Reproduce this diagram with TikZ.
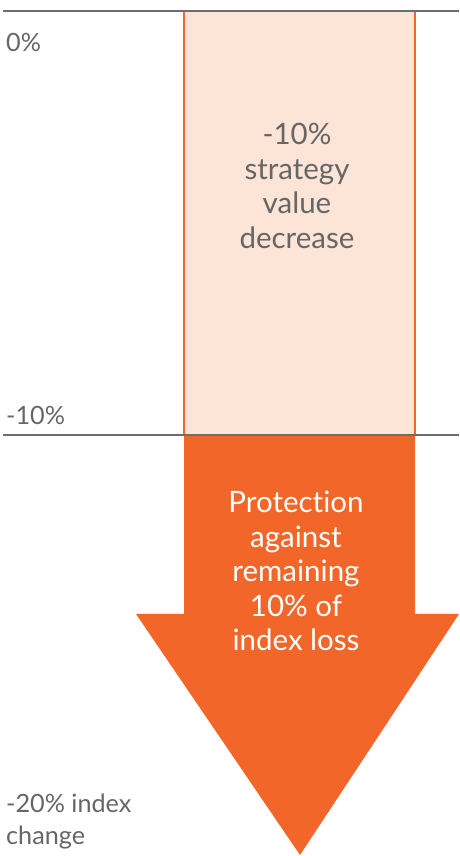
\documentclass[tikz,border=0pt]{standalone}
\usepackage{fontspec}
\setmainfont[Ligatures=NoCommon,RawFeature={-liga;-dlig;-calt}]{Lato}
\usepackage{xcolor}
\usetikzlibrary{positioning}

\definecolor{protorange}{HTML}{F26729}
\definecolor{lossfill}{HTML}{FCE4D6}
\definecolor{axisgray}{HTML}{6D6D6D}
\definecolor{labelgray}{HTML}{666666}

\begin{document}
\begin{tikzpicture}[x=1pt,y=1pt]
  \tikzstyle{levelline}=[axisgray,line width=2.8pt]
  \tikzstyle{levellabel}=[labelgray,anchor=west,inner sep=0pt,align=left,
    font=\fontsize{25.2}{32}\selectfont]
  \tikzstyle{boxtext}=[align=center,inner sep=0pt,
    font=\fontsize{29.5}{34.6}\selectfont]

  \useasboundingbox (0,0) rectangle (459,856);

  % the part the strategy absorbs
  \fill[lossfill] (184,845) rectangle (415,421);
  \draw[protorange,line width=2pt] (184,845) -- (184,421);
  \draw[protorange,line width=2pt] (415,845) -- (415,421);

  % the protected part
  \fill[protorange] (184,421) -- (415,421) -- (415,242) -- (459,242)
    -- (300,1) -- (136,242) -- (184,242) -- cycle;

  \coordinate (zeroL) at (3,845);
  \coordinate (zeroR) at (459,845);
  \coordinate (tenL) at (3,421);
  \coordinate (tenR) at (459,421);
  \draw[levelline] (zeroL) -- (zeroR);
  \draw[levelline] (tenL) -- (tenR);

  \node[levellabel] (zero) at (6,814) {0\%};
  \node[levellabel] (ten) at (6,441) {-10\%};
  \node[levellabel] (twenty) at (6,34) {-20\% index\\change};

  \node[boxtext,labelgray] (decrease) at (297,670)
    {-10\%\\strategy\\value\\decrease};
  \node[boxtext,white] (protect) at (296,285)
    {Protection\\against\\remaining\\10\% of\\index loss};
\end{tikzpicture}
\end{document}
